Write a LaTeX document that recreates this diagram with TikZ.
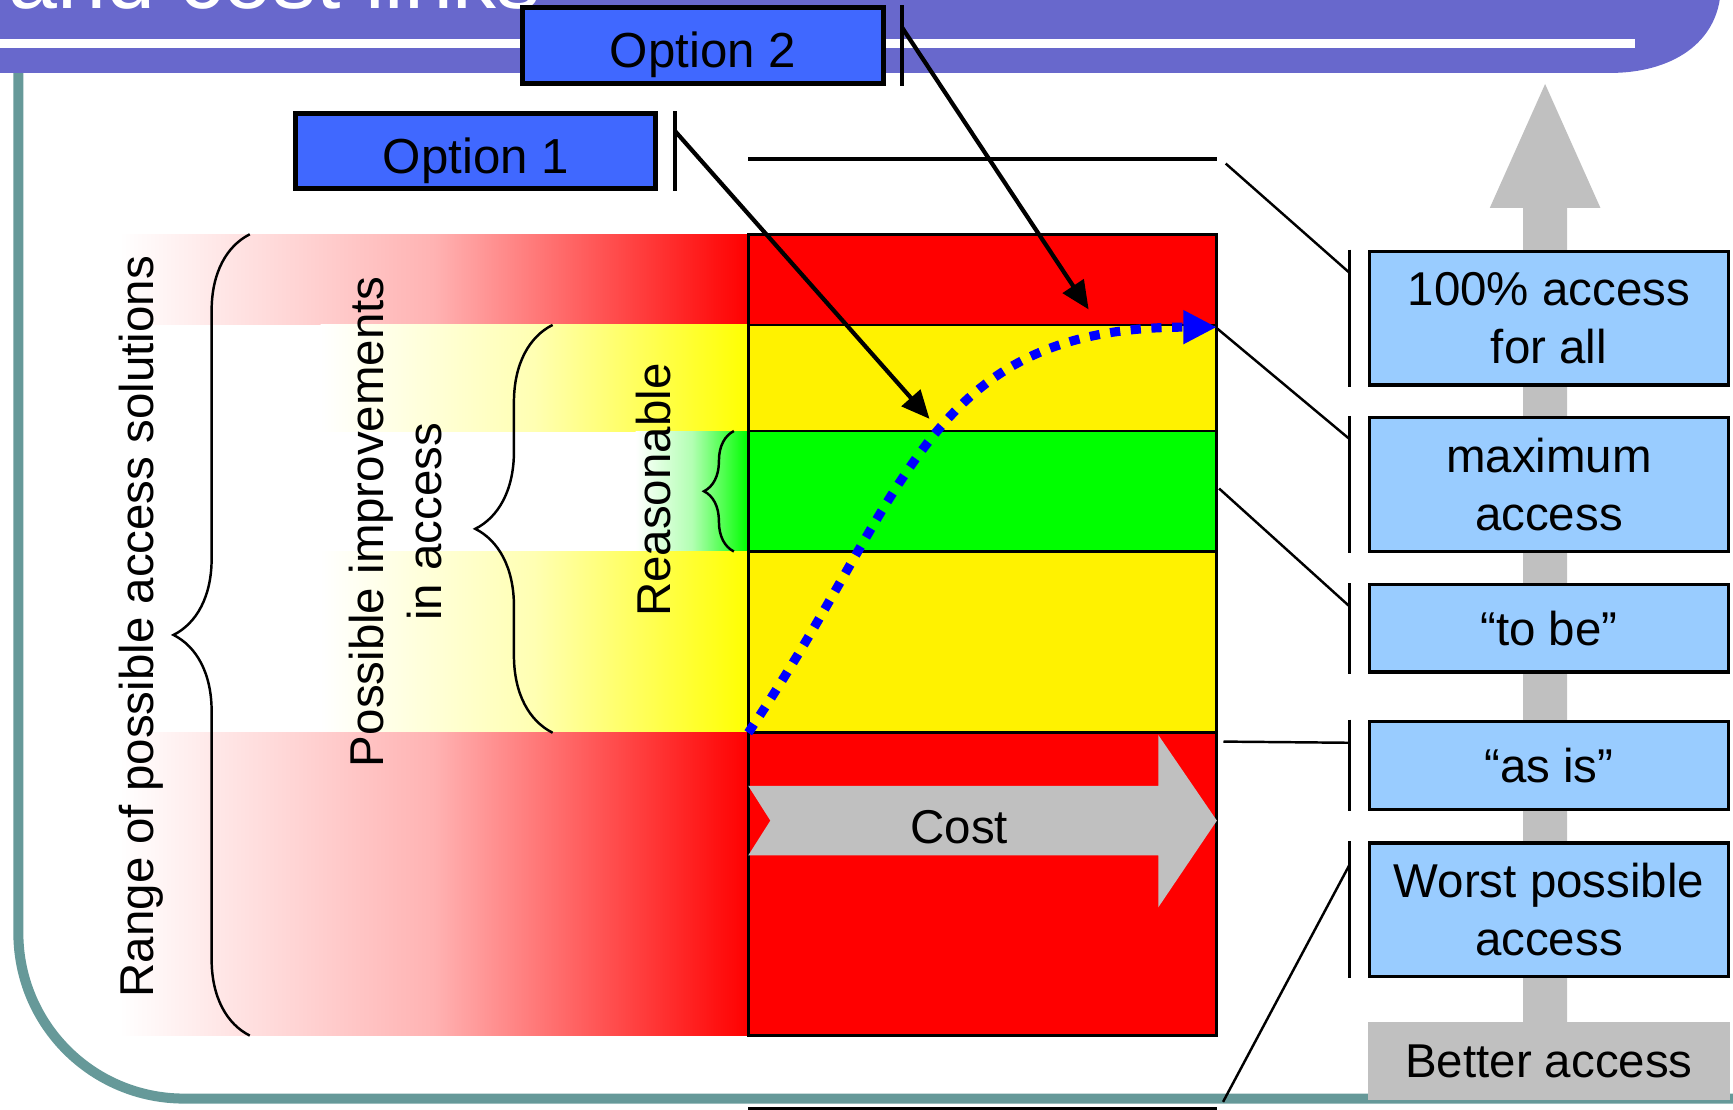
\documentclass[tikz,border=0pt]{standalone}
\usepackage{fontspec}
\setmainfont{Liberation Sans}
\usepackage{tikz}
\usetikzlibrary{arrows.meta,decorations.pathreplacing,calc}
\definecolor{bannerblue}{RGB}{104,104,204}
\definecolor{frameteal}{RGB}{102,153,153}
\definecolor{optblue}{RGB}{64,104,255}
\definecolor{levelblue}{RGB}{153,204,255}
\definecolor{costgrey}{RGB}{192,192,192}
\def\px{0.011052cm}

\begin{document}
\begin{tikzpicture}[x=\px, y=-\px, font=\fontsize{13.5}{16.5}\selectfont,
	accessbox/.style={draw, line width=0.9pt, fill=levelblue, minimum width=325*\px, align=center, inner sep=0pt},
	optbox/.style={draw, line width=1.4pt, fill=optblue, minimum width=326*\px, minimum height=68*\px, inner sep=0pt,
		font=\fontsize{14}{17}\selectfont, text height=12.6pt, text depth=0pt},
	optbar/.style={line width=1.2pt},
	optarrow/.style={line width=1.2pt, -{Triangle[length=8pt,width=7pt]}},
	barline/.style={line width=0.8pt},
	tieline/.style={line width=0.7pt},
	bracket/.style={decorate, line width=0.7pt},
	accesspath/.style={blue, line width=2.6pt, dash pattern=on 2.9pt off 3pt, -{Triangle[length=9.5pt,width=9pt]}}]
			\useasboundingbox (0,0) rectangle (1568,1004);

			\draw[frameteal, line width=2.85pt] (16.6,50) -- (16.6,844) .. controls (16.6,927) and (83.6,994) .. (166.6,994) -- (1580,994);
			\fill[bannerblue] (-10,-10) -- (-10,66) -- (1457,66) .. controls (1511,66) and (1555,40) .. (1557,-10) -- cycle;
			\fill[white] (-10,35) rectangle (1479,43);
			\node[anchor=base west, inner sep=0pt, text=white, font=\fontsize{25}{30}\selectfont] (title) at (7,7.5) {and cost links};

			\foreach \lft/\ya/\yb/\col in {108/212/294/red, 290/294/390/yellow, 575/390/499/green, 290/499/663/yellow, 108/663/937/red}
				\shade[left color=white, right color=\col, middle color=\col!30] (\lft,\ya) rectangle (677,\yb);

			\draw[bracket, decoration={brace, amplitude=21.7pt}] (226,937) -- (226,212);
			\draw[bracket, decoration={brace, amplitude=22pt}] (500,663) -- (500,294);
			\draw[bracket, decoration={brace, amplitude=8.5pt}] (664,499) -- (664,390);

			\foreach \ya/\yb/\col in {212/294/red, 294/390/yellow, 390/499/green, 499/663/yellow, 663/937/red}
				\filldraw[fill=\col, draw=black, line width=0.8pt] (677,\ya) rectangle (1101,\yb);

			\fill[costgrey] (677,711) -- (1048,711) -- (1048,665) -- (1101,742.5) -- (1048,821) -- (1048,774) -- (677,774) -- (697,742.5) -- cycle;
			\node (cost) at (868,748) {Cost};

			\draw[line width=1.3pt] (677,144) -- (1101,144);
			\draw[line width=1.3pt] (677,1003.5) -- (1101,1003.5);

			\fill[costgrey] (1378,930) -- (1378,188) -- (1348,188) -- (1398,76) -- (1448,188) -- (1418,188) -- (1418,930) -- cycle;

			\node[accessbox, minimum height=121*\px] (forall) at (1401.5,287.8) {100\% access\\for all};
			\node[accessbox, minimum height=121*\px] (maximum) at (1401.5,438.2) {maximum\\access};
			\node[accessbox, minimum height=79*\px] (tobe) at (1401.5,568.6) {“to be”};
			\node[accessbox, minimum height=80*\px] (asis) at (1401.5,692.5) {“as is”};
			\node[accessbox, minimum height=121*\px] (worst) at (1401.5,823.3) {Worst possible\\access};
			\node[fill=costgrey, minimum width=327*\px, minimum height=70*\px, inner sep=0pt] (better) at (1401.5,960) {Better access};

			\coordinate (lvlall) at (1109,148);
			\coordinate (lvlmax) at (1101,297);
			\coordinate (lvltobe) at (1103,442);
			\coordinate (lvlasis) at (1107,671);
			\coordinate (lvlworst) at (1106.6,997);
			\foreach \lvl/\bx in {lvlall/forall, lvlmax/maximum, lvltobe/tobe, lvlasis/asis, lvlworst/worst}
			{
				\draw[barline] ($(\bx.north west)+(-16.5,0)$) -- ($(\bx.south west)+(-16.5,0)$);
				\draw[tieline] (\lvl) -- ($(\bx.north west)+(-16.5,21)$);
			}

			\node[optbox] (opt2) at (636,41.2) {Option 2};
			\node[optbox] (opt1) at (430.5,136.8) {Option 1};
			\coordinate (aim1) at (841,379);
			\coordinate (aim2) at (985,280);
			\foreach \opt/\aim/\dy in {opt1/aim1/18, opt2/aim2/20}
			{
				\draw[optbar] ($(\opt.north east)+(15,0)$) -- ($(\opt.south east)+(15,0)$);
				\draw[optarrow] ($(\opt.north east)+(15,\dy)$) -- (\aim);
			}

			\coordinate (asislvl) at (677,663);
			\coordinate (maxlvl) at (1101,296);
			\draw[accesspath] (asislvl) .. controls (824,445) and (837,296) .. (maxlvl);

			\node[rotate=90, anchor=base] (range) at (139,567) {Range of possible access solutions};
			\node[rotate=90, align=center] (improve) at (358,472) {Possible improvements\\in access};
			\node[rotate=90, anchor=base] (reason) at (607,443.5) {Reasonable};
		\end{tikzpicture}
\end{document}
